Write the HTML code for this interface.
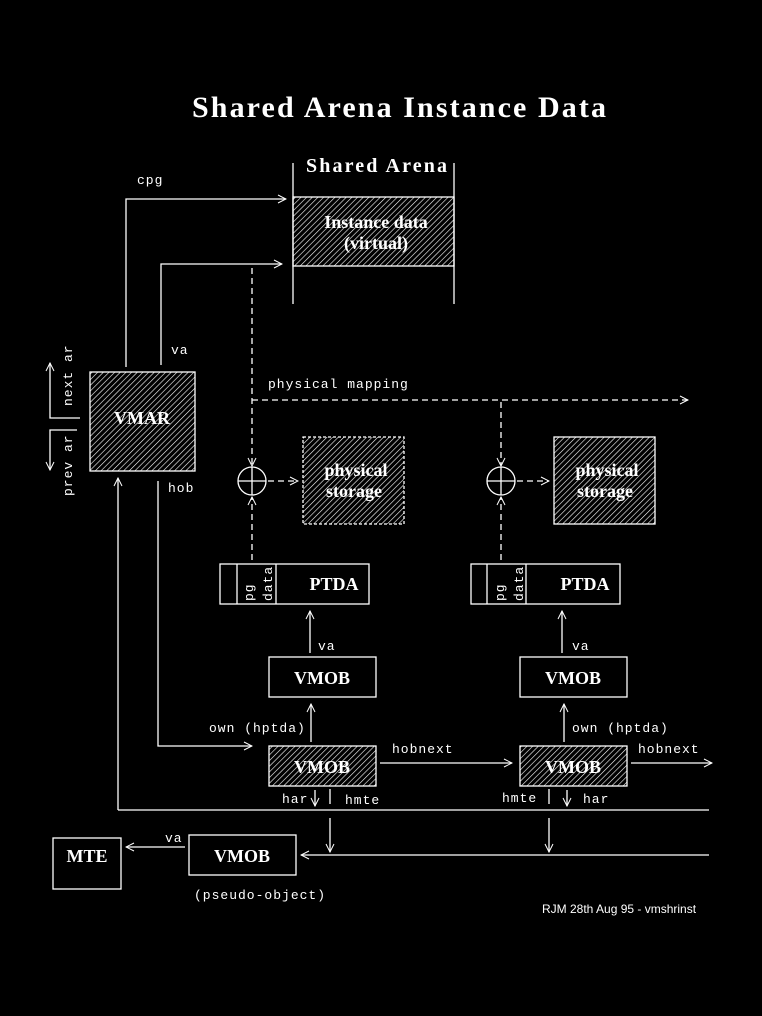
<!DOCTYPE html>
<html><head><meta charset="utf-8"><style>
html,body{margin:0;padding:0;background:#000;}
svg{display:block}
.m{font-family:"Liberation Mono",monospace;font-size:13px;letter-spacing:1px;fill:#fff}
.s{font-family:"Liberation Serif",serif;fill:#fff}
.b{font-family:"Liberation Serif",serif;font-weight:bold;fill:#fff;font-size:18px}
</style></head><body>
<svg width="762" height="1016" viewBox="0 0 762 1016" xmlns="http://www.w3.org/2000/svg">
<defs>
<pattern id="h" patternUnits="userSpaceOnUse" width="4" height="4" patternTransform="rotate(45)">
<line x1="0" y1="0" x2="0" y2="4" stroke="#fff" stroke-width="1.2"/>
</pattern>
<marker id="a" markerWidth="10" markerHeight="10" refX="9" refY="5" orient="auto" markerUnits="userSpaceOnUse">
<path d="M1,1 L9,5 L1,9" fill="none" stroke="#fff" stroke-width="1"/>
</marker>
</defs>
<rect width="762" height="1016" fill="#000"/>
<g stroke="#fff" stroke-width="1.3" fill="none">
<line x1="293" y1="163" x2="293" y2="304"/><line x1="454" y1="163" x2="454" y2="304"/>
<rect x="293" y="197" width="161" height="69" fill="url(#h)"/>
<polyline points="126,367 126,199 286,199" marker-end="url(#a)"/>
<polyline points="161,365 161,264 282,264" marker-end="url(#a)"/>
<rect x="90" y="372" width="105" height="99" fill="url(#h)"/>
<polyline points="80,418 50,418 50,363" marker-end="url(#a)"/>
<polyline points="77,430 50,430 50,470" marker-end="url(#a)"/>
<polyline points="158,481 158,746 252,746" marker-end="url(#a)"/>
<line x1="118" y1="810" x2="118" y2="478" marker-end="url(#a)"/>
<line x1="118" y1="810" x2="709" y2="810"/>
<g stroke-dasharray="6,4">
<line x1="252" y1="268" x2="252" y2="466" marker-end="url(#a)"/>
<line x1="252" y1="400" x2="688" y2="400" marker-end="url(#a)"/>
<line x1="501" y1="402" x2="501" y2="466" marker-end="url(#a)"/>
<line x1="268" y1="481" x2="298" y2="481" marker-end="url(#a)"/>
<line x1="517" y1="481" x2="549" y2="481" marker-end="url(#a)"/>
<line x1="252" y1="560" x2="252" y2="497" marker-end="url(#a)"/>
<line x1="501" y1="560" x2="501" y2="497" marker-end="url(#a)"/>
</g>
<circle cx="252" cy="481" r="14"/><line x1="238" y1="481" x2="266" y2="481"/><line x1="252" y1="467" x2="252" y2="495"/>
<circle cx="501" cy="481" r="14"/><line x1="487" y1="481" x2="515" y2="481"/><line x1="501" y1="467" x2="501" y2="495"/>
<rect x="303" y="437" width="101" height="87" fill="url(#h)" stroke-dasharray="3,2"/>
<rect x="554" y="437" width="101" height="87" fill="url(#h)"/>
<rect x="220" y="564" width="149" height="40"/><line x1="237" y1="564" x2="237" y2="604"/><line x1="276" y1="564" x2="276" y2="604"/>
<rect x="471" y="564" width="149" height="40"/><line x1="487" y1="564" x2="487" y2="604"/><line x1="526" y1="564" x2="526" y2="604"/>
<line x1="310" y1="653" x2="310" y2="611" marker-end="url(#a)"/>
<line x1="562" y1="653" x2="562" y2="611" marker-end="url(#a)"/>
<rect x="269" y="657" width="107" height="40"/><rect x="520" y="657" width="107" height="40"/>
<line x1="311" y1="742" x2="311" y2="704" marker-end="url(#a)"/>
<line x1="564" y1="742" x2="564" y2="704" marker-end="url(#a)"/>
<rect x="269" y="746" width="107" height="40" fill="url(#h)"/>
<rect x="520" y="746" width="107" height="40" fill="url(#h)"/>
<line x1="380" y1="763" x2="512" y2="763" marker-end="url(#a)"/>
<line x1="631" y1="763" x2="712" y2="763" marker-end="url(#a)"/>
<line x1="315" y1="790" x2="315" y2="806" marker-end="url(#a)"/>
<line x1="330" y1="789" x2="330" y2="804"/>
<line x1="549" y1="789" x2="549" y2="804"/>
<line x1="567" y1="790" x2="567" y2="806" marker-end="url(#a)"/>
<line x1="330" y1="818" x2="330" y2="852" marker-end="url(#a)"/>
<line x1="549" y1="818" x2="549" y2="852" marker-end="url(#a)"/>
<line x1="709" y1="855" x2="301" y2="855" marker-end="url(#a)"/>
<rect x="189" y="835" width="107" height="40"/>
<rect x="53" y="838" width="68" height="51"/>
<line x1="185" y1="847" x2="126" y2="847" marker-end="url(#a)"/>
</g>
<text x="192" y="117" class="s" font-size="30" font-weight="bold" textLength="414" lengthAdjust="spacing">Shared Arena Instance Data</text>
<text x="306" y="172" class="s" font-size="20" font-weight="bold" textLength="141" lengthAdjust="spacing">Shared Arena</text>
<text x="376" y="228" class="b" text-anchor="middle">Instance data</text>
<text x="376" y="249" class="b" text-anchor="middle">(virtual)</text>
<text x="137" y="184" class="m">cpg</text>
<text x="171" y="354" class="m">va</text>
<text x="142" y="424" class="b" text-anchor="middle">VMAR</text>
<text class="m" transform="translate(72,406) rotate(-90)">next ar</text>
<text class="m" transform="translate(72,496) rotate(-90)">prev ar</text>
<text x="168" y="492" class="m">hob</text>
<text x="268" y="388" class="m">physical mapping</text>
<text x="356" y="476" class="b" text-anchor="middle">physical</text>
<text x="354" y="497" class="b" text-anchor="middle">storage</text>
<text x="607" y="476" class="b" text-anchor="middle">physical</text>
<text x="605" y="497" class="b" text-anchor="middle">storage</text>
<text class="m" transform="translate(253,601) rotate(-90)">pg</text>
<text class="m" transform="translate(272,601) rotate(-90)">data</text>
<text class="m" transform="translate(504,601) rotate(-90)">pg</text>
<text class="m" transform="translate(523,601) rotate(-90)">data</text>
<text x="334" y="590" class="b" text-anchor="middle">PTDA</text>
<text x="585" y="590" class="b" text-anchor="middle">PTDA</text>
<text x="318" y="650" class="m">va</text>
<text x="572" y="650" class="m">va</text>
<text x="322" y="684" class="b" text-anchor="middle">VMOB</text>
<text x="573" y="684" class="b" text-anchor="middle">VMOB</text>
<text x="209" y="732" class="m">own (hptda)</text>
<text x="572" y="732" class="m">own (hptda)</text>
<text x="322" y="773" class="b" text-anchor="middle">VMOB</text>
<text x="573" y="773" class="b" text-anchor="middle">VMOB</text>
<text x="392" y="753" class="m">hobnext</text>
<text x="638" y="753" class="m">hobnext</text>
<text x="282" y="803" class="m">har</text>
<text x="345" y="804" class="m">hmte</text>
<text x="502" y="802" class="m">hmte</text>
<text x="583" y="803" class="m">har</text>
<text x="242" y="862" class="b" text-anchor="middle">VMOB</text>
<text x="87" y="862" class="b" text-anchor="middle">MTE</text>
<text x="165" y="842" class="m">va</text>
<text x="194" y="899" class="m">(pseudo-object)</text>
<text x="542" y="913" font-family="Liberation Sans, sans-serif" font-size="12" fill="#fff">RJM 28th Aug 95 - vmshrinst</text>
</svg>
</body></html>
